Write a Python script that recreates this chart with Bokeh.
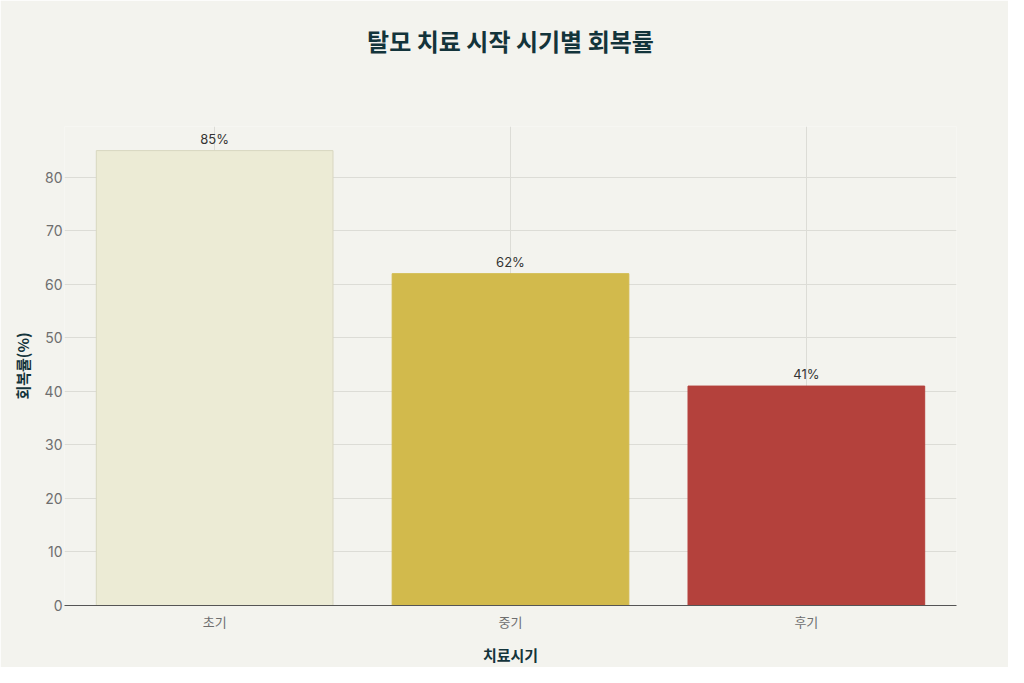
from bokeh.plotting import figure
from bokeh.models import ColumnDataSource, FixedTicker, Title
from bokeh.embed import file_html
from bokeh.resources import INLINE
from bokeh.core.properties import value

stages = ["초기", "중기", "후기"]
recovery = [85, 62, 41]
colors = ["#ECEBD5", "#D2BA4C", "#B4413C"]
line_colors = ["#D8D7C0", "#D2BA4C", "#B4413C"]
labels = [f"{v}%" for v in recovery]
y_ticks = [0, 10, 20, 30, 40, 50, 60, 70, 80]
title_text = "탈모 치료 시작 시기별 회복률"

FONT = "Noto Sans CJK KR"
NUM_FONT = "Inter"
BG = "#F3F3EE"

W, H = 1008, 667
BL, BR, BT, BB = 64, 52, 126, 62

src = ColumnDataSource(dict(stage=stages, val=recovery, color=colors,
                            lc=line_colors, label=labels))

p = figure(x_range=stages, y_range=(0, 89.5), width=W, height=H,
           output_backend="svg", toolbar_location=None,
           background_fill_color=BG, border_fill_color=BG,
           min_border_left=BL, min_border_right=BR,
           min_border_top=BT, min_border_bottom=BB)
p.outline_line_color = None
p.x_range.range_padding = 0.005

p.vbar(x="stage", top="val", width=0.8, source=src, fill_color="color",
       line_color="lc", line_width=1)
p.text(x="stage", y="val", text="label", source=src, text_align="center",
       text_baseline="bottom", y_offset=-4, text_font=value(NUM_FONT),
       text_font_size="13px", text_color="#333333")

# spacer (nearest the frame), then the real title above it
spacer = Title(text=" ", text_font_size="1px", standoff=66)
p.add_layout(spacer, "above")
main_title = Title(text=title_text, align="center", text_font=FONT,
                   text_font_size="24px", text_font_style="bold",
                   text_color="#13343B", standoff=0)
p.add_layout(main_title, "above")

p.yaxis.ticker = FixedTicker(ticks=y_ticks)
p.yaxis.axis_line_color = None
p.yaxis.major_tick_line_color = None
p.yaxis.minor_tick_line_color = None
p.yaxis.major_tick_out = 0
p.yaxis.minor_tick_out = 0
p.yaxis.major_label_text_font = NUM_FONT
p.yaxis.major_label_text_font_size = "14px"
p.yaxis.major_label_text_color = "#6E6E6E"
p.yaxis.major_label_standoff = 2
p.yaxis.axis_label = "회복률(%)"
p.yaxis.axis_label_text_font = FONT
p.yaxis.axis_label_text_font_size = "15px"
p.yaxis.axis_label_text_font_style = "bold"
p.yaxis.axis_label_text_color = "#13343B"
p.yaxis.axis_label_standoff = 9

p.xaxis.axis_line_color = "#555555"
p.xaxis.major_tick_line_color = None
p.xaxis.minor_tick_line_color = None
p.xaxis.major_tick_out = 0
p.xaxis.minor_tick_out = 0
p.xaxis.major_label_text_font = FONT
p.xaxis.major_label_text_font_size = "13px"
p.xaxis.major_label_text_color = "#6E6E6E"
p.xaxis.major_label_standoff = 6
p.xaxis.axis_label = "치료시기"
p.xaxis.axis_label_text_font = FONT
p.xaxis.axis_label_text_font_size = "15px"
p.xaxis.axis_label_text_font_style = "bold"
p.xaxis.axis_label_text_color = "#13343B"
p.xaxis.axis_label_standoff = 10

p.xgrid.grid_line_color = "#DCDCD6"
p.ygrid.grid_line_color = "#DCDCD6"

open("out.html", "w").write(file_html(p, INLINE))
